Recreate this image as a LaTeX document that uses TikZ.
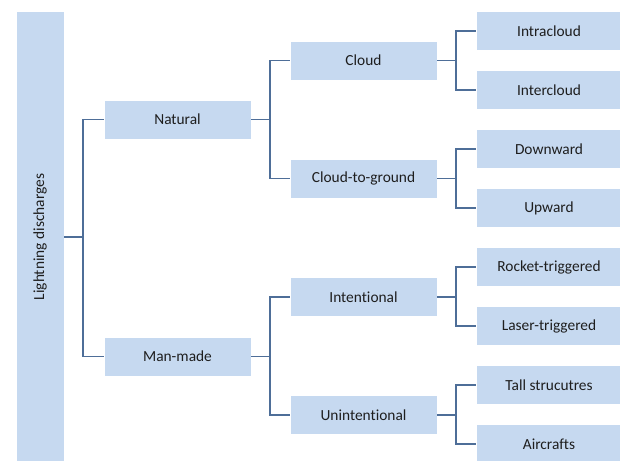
\documentclass[tikz,border=0pt]{standalone}
\usepackage{fontspec}
\setmainfont{Carlito}[Ligatures=NoCommon]
\usepackage{graphicx}
\usepackage{xcolor}
\usepackage{tikz}

\definecolor{boxfill}{RGB}{198,217,240}
\definecolor{linkblue}{RGB}{78,110,152}
\definecolor{txtgray}{RGB}{30,30,30}

\begin{document}
\begin{tikzpicture}[
    x=1pt, y=-1pt,
    box/.style={fill=boxfill, draw=white, line width=0.6pt,
                text=txtgray, font=\fontsize{15.4}{18}\selectfont,
                inner sep=0pt, minimum height=39pt},
    midbox/.style={box, minimum width=147pt},
    leaf/.style={box, minimum width=146pt},
    rootbox/.style={box, minimum width=48pt, minimum height=452pt},
    link/.style={linkblue, line width=1.8pt}
]

% ---------- frame ----------
\clip (0,0) rectangle (620,460);
\fill[white] (0,0) rectangle (620,460);

% ---------- root ----------
\node[rootbox] (root) at (40,237) {\rotatebox{90}{Lightning discharges}};

% ---------- first level ----------
\node[midbox] (natural) at (177.5,119.5) {Natural};
\node[midbox] (manmade) at (177.5,356.5) {Man-made};

% ---------- second level ----------
\node[midbox] (cloud) at (363.5,60.5)  {Cloud};
\node[midbox] (ctg)   at (363.5,178.5) {Cloud-to-ground};
\node[midbox] (intent)   at (363.5,297) {Intentional};
\node[midbox] (unintent) at (363.5,415) {Unintentional};

% ---------- leaves ----------
\foreach \name/\y/\txt in {intra/31/Intracloud, inter/90/Intercloud,
    down/149/Downward, up/208/Upward,
    rocket/267/Rocket-triggered, laser/326/Laser-triggered,
    tall/385/Tall strucutres, aircraft/444/Aircrafts}
  \node[leaf] (\name) at (549,\y) {\txt};

% ---------- connectors ----------
\foreach \parent/\kid in {root/natural, root/manmade,
    natural/cloud, natural/ctg, manmade/intent, manmade/unintent,
    cloud/intra, cloud/inter, ctg/down, ctg/up,
    intent/rocket, intent/laser, unintent/tall, unintent/aircraft}
  \draw[link] (\parent.east) -- ++(19,0) |- (\kid.west);

\end{tikzpicture}
\end{document}
